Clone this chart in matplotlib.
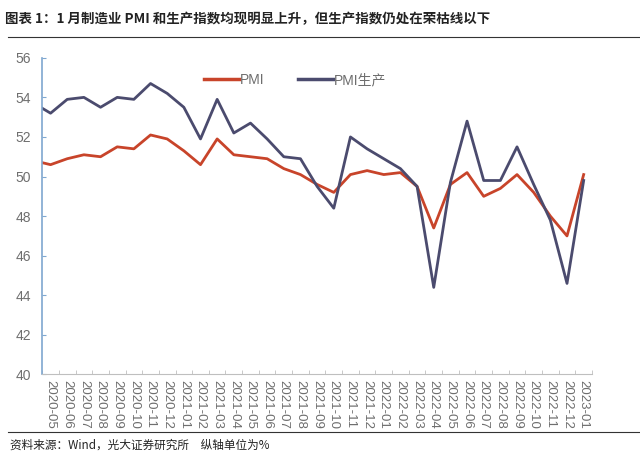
import matplotlib.pyplot as plt
from matplotlib.lines import Line2D

plt.rcParams['font.family'] = ['Liberation Sans', 'Noto Sans CJK SC', 'DejaVu Sans']

# data starts at 2020-04, which sits just outside the left edge of the axis
months = ["2020-04", "2020-05", "2020-06", "2020-07", "2020-08", "2020-09", "2020-10",
          "2020-11", "2020-12", "2021-01", "2021-02", "2021-03", "2021-04", "2021-05",
          "2021-06", "2021-07", "2021-08", "2021-09", "2021-10", "2021-11", "2021-12",
          "2022-01", "2022-02", "2022-03", "2022-04", "2022-05", "2022-06", "2022-07",
          "2022-08", "2022-09", "2022-10", "2022-11", "2022-12", "2023-01"]
pmi = [50.8, 50.6, 50.9, 51.1, 51.0, 51.5, 51.4, 52.1, 51.9, 51.3, 50.6, 51.9, 51.1,
       51.0, 50.9, 50.4, 50.1, 49.6, 49.2, 50.1, 50.3, 50.1, 50.2, 49.5, 47.4, 49.6,
       50.2, 49.0, 49.4, 50.1, 49.2, 48.0, 47.0, 50.1]
pmi_prod = [53.7, 53.2, 53.9, 54.0, 53.5, 54.0, 53.9, 54.7, 54.2, 53.5, 51.9, 53.9, 52.2,
            52.7, 51.9, 51.0, 50.9, 49.5, 48.4, 52.0, 51.4, 50.9, 50.4, 49.5, 44.4, 49.7,
            52.8, 49.8, 49.8, 51.5, 49.6, 47.8, 44.6, 49.8]

red = "#C8442A"
navy = "#4B4B6E"
grey = "#6E6E6E"

fig = plt.figure(figsize=(6.4, 4.55), dpi=100)
ax = fig.add_axes([0.066, 0.177, 0.859, 0.696])

x = list(range(-1, len(months) - 1))
ax.plot(x, pmi, color=red, lw=2)
ax.plot(x, pmi_prod, color=navy, lw=2)

ax.set_xlim(-0.5, len(months) - 1.5)
ax.set_ylim(40, 56)
ax.set_yticks(range(40, 57, 2))

ax.set_xticks(x[1:])
ax.set_xticklabels(months[1:], rotation=270, fontsize=9.5, color=grey)
ax.set_xticks([i + 0.5 for i in range(-1, len(months) - 1)], minor=True)
ax.tick_params(axis='x', which='major', length=0, pad=4)
ax.tick_params(axis='x', which='minor', length=3, direction='in', color="#BFBFBF")
ax.tick_params(axis='y', length=3, direction='in', color="#7FA7D0", labelsize=10,
               labelcolor=grey, pad=8)

for side in ['top', 'right']:
    ax.spines[side].set_visible(False)
ax.spines['left'].set_color("#7FA7D0")
ax.spines['left'].set_linewidth(1.2)
ax.spines['bottom'].set_color("#BFBFBF")

handles = [Line2D([], [], color=red, lw=2.5), Line2D([], [], color=navy, lw=2.5)]
ax.legend(handles, ["PMI", "PMI生产"], loc='center', bbox_to_anchor=(0.46, 0.93),
          ncol=2, frameon=False, fontsize=10, labelcolor=grey, handlelength=2.5,
          handletextpad=0.1, columnspacing=2.4)

fig.text(0.008, 0.958, "图表 1：1 月制造业 PMI 和生产指数均现明显上升，但生产指数仍处在荣枯线以下",
         fontsize=9.7, fontweight='bold', color="#222222",
         family=['Noto Sans CJK SC', 'DejaVu Sans'], va='center')
fig.add_artist(Line2D([0.012, 1.0], [0.918, 0.918], color="#333333", lw=0.8))
fig.add_artist(Line2D([0.012, 1.0], [0.051, 0.051], color="#333333", lw=0.8))
fig.text(0.015, 0.022, "资料来源：Wind，光大证券研究所　纵轴单位为%", fontsize=8.4,
         color="#222222", family=['Noto Sans CJK SC', 'DejaVu Sans'], va='center')

fig.savefig("out.png", dpi=100)
